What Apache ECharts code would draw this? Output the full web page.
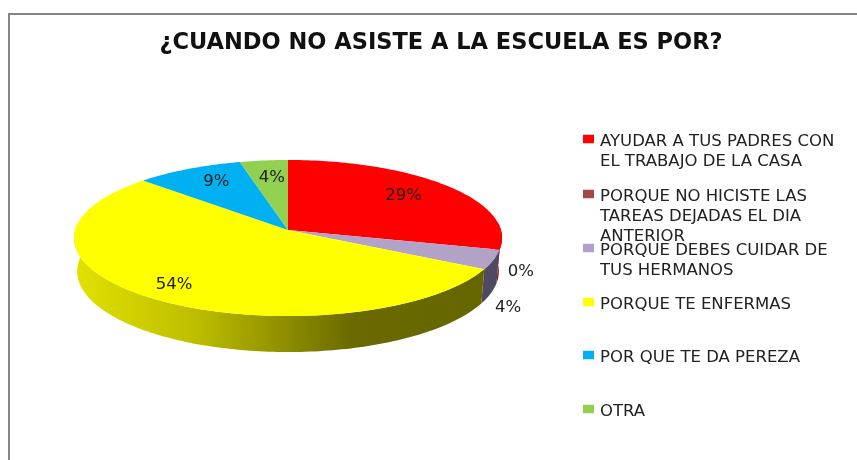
<!DOCTYPE html>
<html><head><meta charset="utf-8">
<style>html,body{margin:0;padding:0;background:#fff}#c{width:857px;height:460px}
#c.wide text{letter-spacing:0}
</style>
<script src="https://cdn.jsdelivr.net/npm/echarts@6/dist/echarts.min.js"></script>
</head><body><div id="c"></div>
<script>
const titleText = '¿CUANDO NO ASISTE A LA ESCUELA ES POR?';
const categories = [
  'AYUDAR A TUS PADRES CON\nEL TRABAJO DE LA CASA',
  'PORQUE NO HICISTE LAS\nTAREAS DEJADAS EL DIA\nANTERIOR',
  'PORQUE DEBES CUIDAR DE\nTUS HERMANOS',
  'PORQUE TE ENFERMAS',
  'POR QUE TE DA PEREZA',
  'OTRA'
];
const values = [29, 0, 4, 54, 9, 4];
const colors = ['#FF0000', '#A5484A', '#B3A2C7', '#FFFF00', '#00B0F0', '#92D050'];
const wallColors = ['#9E0000', '#6B2E30', '#4F4A62', null, '#006F99', '#5E8A30'];
// layout of the perspective disc
const CX = 288, AY = 230, RX = 212.9, RY = 77.2, K = 0.1026;
const BOT_DY = 33, BOT_RX = 0.985, BOT_RY = 1.035;
const labelRadius = [0.73, 1.10, 1.07, 0.835, 0.72, 0.67];
const labelDy = [-2, 20, 46, -2, -4, -6];
const legendCenters = [142, 197, 251, 305, 358, 412];

const total = values.reduce((a, b) => a + b, 0);
function proj(th, f, bottom) {
  const u = Math.sin(th), v = -Math.cos(th), w = 1 - K * v;
  if (bottom) return [CX + BOT_RX * RX * u / w * f, AY + BOT_DY + BOT_RY * RY * v / w * f];
  return [CX + RX * u / w * f, AY + RY * v / w * f];
}
function arc(a, b, bottom) {
  const pts = [], n = Math.max(2, Math.ceil((b - a) / 0.02));
  for (let i = 0; i <= n; i++) pts.push(proj(a + (b - a) * i / n, 1, bottom));
  return pts;
}
const DEG = Math.PI / 180, WALL_A = 84 * DEG, WALL_B = 276 * DEG;
const yellowWall = new echarts.graphic.LinearGradient(74, 0, 483, 0, [
  {offset: 0, color: '#E2E200'},
  {offset: 0.3, color: '#BDBD00'},
  {offset: 0.68, color: '#6A6A00'},
  {offset: 1, color: '#666600'}
], true);

function renderSlice(idx) {
  return function (params, api) {
    const val = api.value(0);
    const before = values.slice(0, idx).reduce((a, b) => a + b, 0);
    const a = before / total * 2 * Math.PI, b = (before + val) / total * 2 * Math.PI;
    const children = [];
    const wa = Math.max(a, WALL_A), wb = Math.min(b, WALL_B);
    if (wb > wa) {
      children.push({type: 'polygon',
        shape: {points: arc(wa, wb, false).concat(arc(wa, wb, true).reverse())},
        style: {fill: idx === 3 ? yellowWall : wallColors[idx]}});
    }
    if (val > 0) {
      children.push({type: 'polygon', z2: 5,
        shape: {points: [[CX, AY]].concat(arc(a, b, false))},
        style: {fill: colors[idx]}});
    }
    const mid = (a + b) / 2, p = proj(mid, labelRadius[idx], false);
    children.push({type: 'text', z2: 10, x: p[0], y: p[1] + labelDy[idx],
      style: {text: Math.round(val / total * 100) + '%', fill: '#222',
        font: '16.5px "DejaVu Sans"', align: 'center', verticalAlign: 'middle'}});
    return {type: 'group', children};
  };
}
function legendIcon(lines) {
  return 'path://M0 5.5H11V14H0Z M0 ' + lines * 20 + ' L12 ' + lines * 20;
}
const chart = echarts.init(document.getElementById('c'), null, {renderer: 'canvas'});
chart.setOption({
  animation: false,
  backgroundColor: '#fff',
  title: {text: titleText, left: 436, top: 27, textAlign: 'center',
    textStyle: {fontFamily: 'DejaVu Sans', fontWeight: 'bold', fontSize: 22.5, color: '#111'}},
  legend: categories.map((name, i) => {
    const lines = name.split('\n').length;
    return {
      data: [name], orient: 'vertical', left: 583, top: legendCenters[i] - 10, padding: 0,
      itemWidth: 12, itemHeight: lines * 20, icon: legendIcon(lines), selectedMode: false,
      textStyle: {fontFamily: 'DejaVu Sans', fontSize: 16.5, lineHeight: 20, color: '#222'}
    };
  }),
  graphic: [{type: 'rect', silent: true, z: -1,
    shape: {x: 9, y: 14, width: 900, height: 500},
    style: {fill: 'none', stroke: '#868686', lineWidth: 2}}],
  series: categories.map((name, i) => ({
    type: 'custom', name, coordinateSystem: 'none',
    itemStyle: {color: colors[i]},
    data: [[values[i]]],
    renderItem: renderSlice(i)
  }))
});
</script></body></html>
